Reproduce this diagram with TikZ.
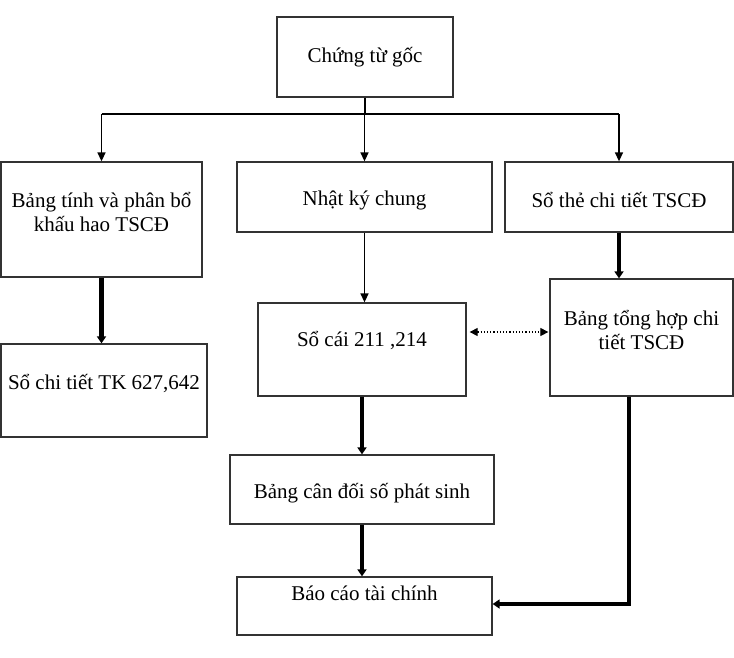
\documentclass[tikz,border=0pt]{standalone}
\usepackage{fontspec}
\setmainfont{Liberation Serif}
\usetikzlibrary{arrows.meta}
\begin{document}
\begin{tikzpicture}[x=1pt,y=-1pt,
  box/.style={draw=black!80, line width=1.3pt, rectangle, inner sep=0pt},
  txt/.style={font=\fontsize{21}{24}\selectfont, align=center, inner sep=0pt},
  thin/.style={line width=1.4pt, -{Triangle[length=9pt,width=8pt]}},
  thick/.style={line width=4.2pt, -{Triangle[length=7pt,width=9pt]}},
  dots/.style={line width=1.2pt, dotted, {Triangle[length=8pt,width=8pt]}-{Triangle[length=8pt,width=8pt]}}
]
\useasboundingbox (0,0) rectangle (734,657);
% boxes
\node[box, minimum width=176pt, minimum height=80pt] (goc) at (365,57) {};
\node[box, minimum width=201pt, minimum height=115pt] (bang) at (101.5,219.5) {};
\node[box, minimum width=255pt, minimum height=70pt] (nkc) at (364.5,197) {};
\node[box, minimum width=228pt, minimum height=70pt] (sothe) at (619,197) {};
\node[box, minimum width=206pt, minimum height=93pt] (sochitiet) at (104,390.5) {};
\node[box, minimum width=208pt, minimum height=93pt] (socai) at (362,349.5) {};
\node[box, minimum width=183pt, minimum height=117pt] (tonghop) at (641.5,337.5) {};
\node[box, minimum width=264pt, minimum height=69pt] (candoi) at (362,489.5) {};
\node[box, minimum width=255pt, minimum height=58pt] (baocao) at (364.5,606) {};
% texts
\node[txt] (tgoc) at (365,57) {Chứng từ gốc};
\node[txt] (tbang) at (101.5,212) {Bảng tính và phân bổ\\khấu hao TSCĐ};
\node[txt] (tnkc) at (364.5,200) {Nhật ký chung};
\node[txt] (tsothe) at (619,200) {Sổ thẻ chi tiết TSCĐ};
\node[txt] (tsochitiet) at (104,383) {Sổ chi tiết TK 627,642};
\node[txt] (tsocai) at (362,340) {Sổ cái 211 ,214};
\node[txt] (ttonghop) at (641.5,330) {Bảng tổng hợp chi\\tiết TSCĐ};
\node[txt] (tcandoi) at (362,493) {Bảng cân đối số phát sinh};
\node[txt] (tbaocao) at (364.5,593) {Báo cáo tài chính};
% connectors from Chung tu goc
\coordinate (split) at (365,114);
\draw[line width=1.4pt] (goc.south) -- (split);
\draw[line width=1.4pt] (bang.north |- split) -- (sothe.north |- split);
\draw[thin] (bang.north |- split) -- (bang.north);
\draw[thin] (nkc.north |- split) -- (nkc.north);
\draw[thin] (sothe.north |- split) -- (sothe.north);
% other connectors
\draw[thin] (nkc.south) -- (nkc.south |- socai.north);
\draw[thick] (bang.south) -- (bang.south |- sochitiet.north);
\draw[thick] (sothe.south) -- (sothe.south |- tonghop.north);
\draw[dots] ([xshift=3pt,yshift=17.5pt]socai.east) -- ([xshift=-1pt,yshift=5.5pt]tonghop.west);
\draw[thick] (socai.south) -- (socai.south |- candoi.north);
\draw[thick] (candoi.south) -- (candoi.south |- baocao.north);
\draw[thick] ([xshift=-12.5pt]tonghop.south) |- ([yshift=2pt]baocao.east);
\end{tikzpicture}
\end{document}
